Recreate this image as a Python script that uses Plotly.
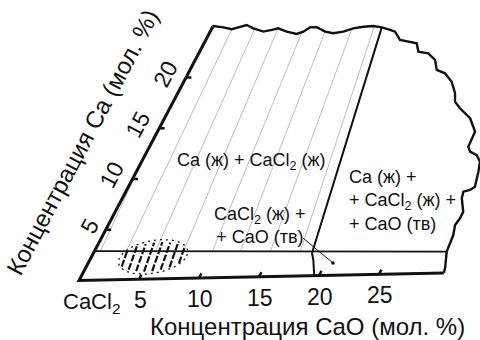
import numpy as np
import plotly.graph_objects as go

# ---------------- data (composition coordinates: CaO mol.%, Ca mol.%) ----------------
cao_ticks = [5, 10, 15, 20, 25]
ca_ticks = [5, 10, 15, 20]
ca_axis_max = 25
cao_axis_max = 30.4

# wavy upper break line (CaO, Ca)
top_wave_cao = [0, 0.02, 0.92, 1.71, 2.18, 2.78, 3.49, 4.48, 5.12, 5.59, 6.45, 7.39, 7.85,
                8.22, 8.79, 9.68, 10.45, 11.22, 11.91, 12.69, 13.50, 14.27, 15.09]
top_wave_ca = [25.0, 25.07, 24.92, 24.71, 24.89, 25.10, 24.76, 24.41, 24.56, 24.71, 24.36, 24.11,
               24.32, 24.74, 24.73, 24.28, 24.10, 24.24, 24.55, 24.69, 24.74, 24.59, 24.31]
# wavy right break line (CaO, Ca)
right_wave_cao = [15.58, 16.37, 17.14, 17.92, 18.43, 19.34, 20.21, 20.79, 21.64, 22.57, 23.37,
                  23.74, 24.45, 25.75, 26.76, 26.85, 26.86, 27.23, 27.94, 28.51, 28.82, 29.20,
                  28.93, 28.44, 28.60, 29.32, 29.34, 29.22, 29.52, 29.61, 29.70, 30.30, 30.40]
right_wave_ca = [24.13, 23.29, 23.11, 22.93, 22.09, 21.91, 21.23, 20.23, 19.88, 19.03, 17.87,
                 17.03, 16.36, 15.35, 14.00, 13.19, 12.52, 12.02, 11.67, 11.00, 10.01, 8.52,
                 8.21, 8.05, 7.40, 6.05, 5.41, 4.75, 3.75, 2.94, 2.11, 0.46, 0.0]

# lower phase boundary (nearly horizontal line)
low_line_cao = [0.0, 29.70]
low_line_ca = [2.90, 2.11]

# boundary of the three-phase field
bound_cao = [14.27, 18.41, 18.83, 19.60]
bound_ca = [24.59, 2.26, 1.56, 0.0]

# tie lines (thin grey)
tie_bot_cao = [0.50, 2.69, 5.14, 7.50, 9.94, 12.30, 14.83, 17.35]
tie_bot_ca = [2.89, 2.83, 2.76, 2.70, 2.63, 2.57, 2.50, 2.43]
tie_top_cao = [0.0, 1.72, 3.62, 5.57, 7.75, 9.68, 11.81, 13.60]
tie_top_ca = [12.0, 24.73, 24.78, 24.71, 24.30, 24.28, 24.53, 24.68]

# hatched ellipse (centre and radii in composition units)
ell_center = (5.2, 2.2)
ell_radii = (2.8, 1.7)
hatch_frac = [-0.84, -0.6, -0.36, -0.12, 0.12, 0.36, 0.6, 0.84]

# leader line from label to the narrow field
leader_cao = [16.98, 20.62]
leader_ca = [3.77, 1.22]

# region labels: (text, CaO, Ca, anchor)
region_labels = [
    ("Ca (ж) + CaCl<sub>2</sub> (ж)", 9.27, 11.54, "center"),
    ("CaCl<sub>2</sub> (ж) +<br>+ CaO (тв)", 12.75, 5.15, "center"),
    ("Ca (ж) +<br>+ CaCl<sub>2</sub> (ж) +<br>+ CaO (тв)", 19.0, 7.46, "left"),
]
x_title = "Концентрация CaO (мол. %)"
y_title = "Концентрация Ca (мол. %)"
origin_label = "CaCl<sub>2</sub>"

# ---------------- oblique frame of the sketch ----------------
O = np.array([79.0, 280.5])
A = np.array([12.0, -0.25])    # per 1 % CaO
B = np.array([5.35, -10.15])   # per 1 % Ca


def T(c, s):
    c = np.asarray(c, dtype=float)
    s = np.asarray(s, dtype=float)
    return O[0] + A[0] * c + B[0] * s, O[1] + A[1] * c + B[1] * s


FONT = "Liberation Sans, Arial, sans-serif"
INK = "#111111"
fig = go.Figure()


def line(c, s, width=2, color=INK, dash=None):
    x, y = T(c, s)
    fig.add_trace(go.Scatter(x=x, y=y, mode="lines", hoverinfo="skip", showlegend=False,
                             line=dict(color=color, width=width, dash=dash)))


# tie lines
for i in range(len(tie_bot_cao)):
    line([tie_bot_cao[i], tie_top_cao[i]], [tie_bot_ca[i], tie_top_ca[i]], width=0.7, color="#a0a0a0")

# outline: axes
line([0, 0, cao_axis_max], [ca_axis_max, 0, 0], width=3)
# wavy break line
line(top_wave_cao + right_wave_cao, top_wave_ca + right_wave_ca, width=2.4)
# lower line
line(low_line_cao, low_line_ca, width=1.8)
# three-phase boundary
line(bound_cao, bound_ca, width=2)

# ticks
for c in cao_ticks:
    line([c, c], [0, 0.45], width=2.5)
for s in ca_ticks:
    line([0, 0.45], [s, s], width=2.5)

# hatched ellipse
cc, cs = ell_center
rc, rs = ell_radii
t = np.linspace(0, 2 * np.pi, 80)
line(cc + rc * np.cos(t), cs + rs * np.sin(t), width=1.3, dash="2px,4px")
k = -0.15  # slant of the hatch strokes
for f in hatch_frac:
    u = f * rc
    a2 = (k / rc) ** 2 + 1 / rs ** 2
    b2 = 2 * u * k / rc ** 2
    c2 = (u / rc) ** 2 - 1
    disc = b2 ** 2 - 4 * a2 * c2
    if disc <= 0:
        continue
    v1 = (-b2 - np.sqrt(disc)) / (2 * a2) * 0.85
    v2 = (-b2 + np.sqrt(disc)) / (2 * a2) * 0.85
    line([cc + u + k * v1, cc + u + k * v2], [cs + v1, cs + v2], width=2.2, dash="7px,2px")

# leader
line(leader_cao, leader_ca, width=1)
lx, ly = T([leader_cao[-1]], [leader_ca[-1]])
fig.add_trace(go.Scatter(x=lx, y=ly, mode="markers", hoverinfo="skip", showlegend=False,
                         marker=dict(color=INK, size=3.5)))

ann = []
for c in cao_ticks:
    x, y = T(c, 0)
    ann.append(dict(x=float(x), y=float(y), text=str(c), showarrow=False, yshift=-21, xshift=1,
                    font=dict(size=23, family=FONT, color=INK)))
for s in ca_ticks:
    x, y = T(0, s)
    ann.append(dict(x=float(x), y=float(y), text=str(s), showarrow=False, textangle=-62,
                    xshift=-16 if len(str(s)) == 1 else -21, yshift=4,
                    font=dict(size=23, family=FONT, color=INK)))
x, y = T(0, 0)
ann.append(dict(x=float(x), y=float(y), text=origin_label, showarrow=False, xshift=12, yshift=-22,
                font=dict(size=22, family=FONT, color=INK)))
x, y = T(15, 0)
ann.append(dict(x=float(x), y=float(y), text=x_title, showarrow=False, xshift=48, yshift=-50,
                font=dict(size=24, family=FONT, color=INK)))
x, y = T(0, 12.5)
ann.append(dict(x=float(x), y=float(y), text=y_title, showarrow=False, xshift=-63, yshift=12,
                textangle=-62, font=dict(size=24, family=FONT, color=INK)))
for text, c, s, anc in region_labels:
    x, y = T(c, s)
    ann.append(dict(x=float(x), y=float(y), text=text, showarrow=False, xanchor=anc,
                    align=anc, font=dict(size=18, family=FONT, color=INK)))

fig.update_layout(
    width=480, height=340, margin=dict(l=0, r=0, t=0, b=0),
    paper_bgcolor="white", plot_bgcolor="white",
    font=dict(family=FONT, size=18, color=INK),
    xaxis=dict(range=[0, 480], visible=False, fixedrange=True),
    yaxis=dict(range=[340, 0], visible=False, fixedrange=True),
    annotations=ann,
)
fig.write_html("out.html")
